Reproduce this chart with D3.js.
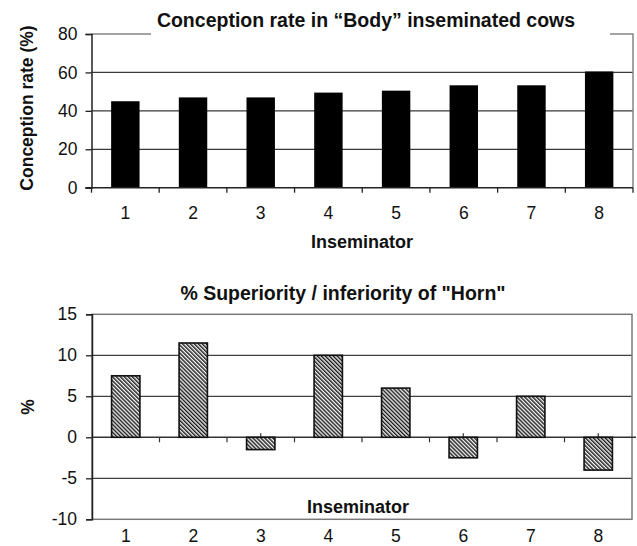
<!DOCTYPE html>
<html>
<head>
<meta charset="utf-8">
<script src="https://cdn.jsdelivr.net/npm/d3@7"></script>
<style>
  body { margin: 0; background: #fff; }
  text { font-family: "Liberation Sans", Arial, sans-serif; fill: #111; }
  .bold { font-weight: bold; }
</style>
</head>
<body>
<svg id="chart"></svg>
<script>
// data
var inseminators = ["1", "2", "3", "4", "5", "6", "7", "8"];
var bodyRate = [45, 47, 47, 49.5, 50.5, 53.3, 53.3, 60.5];
var hornDiff = [7.5, 11.5, -1.5, 10, 6, -2.5, 5, -4];
var rateTicks = [0, 20, 40, 60, 80];
var diffTicks = [-10, -5, 0, 5, 10, 15];

var width = 637, height = 546;

var svg = d3.select("#chart")
    .attr("width", width)
    .attr("height", height);

// hatch for the lower bars
svg.append("defs").append("pattern")
    .attr("id", "hatch")
    .attr("patternUnits", "userSpaceOnUse")
    .attr("width", 2.8)
    .attr("height", 2.8)
    .attr("patternTransform", "rotate(-45)")
    .call(function (p) {
        p.append("rect").attr("width", 2.8).attr("height", 2.8).attr("fill", "#f2f2f2");
        p.append("line").attr("x1", 0.7).attr("x2", 0.7).attr("y1", 0).attr("y2", 2.8)
            .attr("stroke", "#1a1a1a").attr("stroke-width", 1.4);
    });

var barFrac = 0.42;
var hyphen = function (d) { return String(d); };   // keep plain "-" like the original

// ---------- top chart ----------
var x1 = d3.scaleBand().domain(inseminators).range([91.5, 633]);
var y1 = d3.scaleLinear().domain([0, 80]).range([187.7, 34]);

var g1 = svg.append("g");

// grid
g1.selectAll(".grid")
    .data(rateTicks.filter(function (d) { return d > 0 && d < 80; }))
    .enter().append("line")
    .attr("x1", x1.range()[0]).attr("x2", x1.range()[1])
    .attr("y1", function (d) { return y1(d); })
    .attr("y2", function (d) { return y1(d); })
    .attr("stroke", "#3a3a3a").attr("stroke-width", 1.3);

// frame (top + right)
g1.append("path")
    .attr("d", "M" + x1.range()[0] + "," + y1(80) + "H" + x1.range()[1] + "V" + y1(0))
    .attr("fill", "none").attr("stroke", "#858585").attr("stroke-width", 1.5);

// bars
g1.selectAll(".bar")
    .data(bodyRate)
    .enter().append("rect")
    .attr("x", function (d, i) { return x1(inseminators[i]) + x1.bandwidth() * (1 - barFrac) / 2; })
    .attr("y", function (d) { return y1(d); })
    .attr("width", x1.bandwidth() * barFrac)
    .attr("height", function (d) { return y1(0) - y1(d); })
    .attr("fill", "#000");

// y axis
var ay1 = g1.append("g")
    .attr("transform", "translate(" + x1.range()[0] + ",0)")
    .call(d3.axisLeft(y1).tickValues(rateTicks).tickFormat(hyphen).tickSize(6).tickPadding(8));
ay1.select(".domain").attr("stroke", "#222").attr("stroke-width", 1.5);
ay1.selectAll(".tick line").attr("stroke", "#222").attr("stroke-width", 1.3);
ay1.selectAll("text").style("font-size", "17.5px").attr("fill", "#111");

// x axis line with boundary ticks
g1.append("line")
    .attr("x1", x1.range()[0] - 6).attr("x2", x1.range()[1])
    .attr("y1", y1(0)).attr("y2", y1(0))
    .attr("stroke", "#222").attr("stroke-width", 1.5);
g1.selectAll(".xt")
    .data(inseminators.concat(["end"]))
    .enter().append("line")
    .attr("x1", function (d, i) { return x1.range()[0] + i * x1.step(); })
    .attr("x2", function (d, i) { return x1.range()[0] + i * x1.step(); })
    .attr("y1", y1(0)).attr("y2", y1(0) + 5)
    .attr("stroke", "#222").attr("stroke-width", 1.3);
g1.selectAll(".xl")
    .data(inseminators)
    .enter().append("text")
    .attr("x", function (d) { return x1(d) + x1.bandwidth() / 2; })
    .attr("y", 218.5)
    .attr("text-anchor", "middle")
    .style("font-size", "17.5px")
    .text(function (d) { return d; });

// title with white box covering the frame
g1.append("rect").attr("x", 151).attr("y", 4).attr("width", 459).attr("height", 32).attr("fill", "#fff");
g1.append("text")
    .attr("class", "bold")
    .attr("x", 366).attr("y", 27)
    .attr("text-anchor", "middle")
    .style("font-size", "19.5px")
    .text("Conception rate in “Body” inseminated cows");

g1.append("text")
    .attr("class", "bold")
    .attr("transform", "translate(33,108) rotate(-90)")
    .attr("text-anchor", "middle")
    .style("font-size", "17.5px")
    .text("Conception rate (%)");

g1.append("text")
    .attr("class", "bold")
    .attr("x", 362).attr("y", 248)
    .attr("text-anchor", "middle")
    .style("font-size", "18px")
    .text("Inseminator");

// ---------- bottom chart ----------
var x2 = d3.scaleBand().domain(inseminators).range([92, 632]);
var y2 = d3.scaleLinear().domain([-10, 15]).range([519.3, 314.3]);

var g2 = svg.append("g");

g2.selectAll(".grid")
    .data(diffTicks.filter(function (d) { return d !== 0 && d > -10 && d < 15; }))
    .enter().append("line")
    .attr("x1", x2.range()[0]).attr("x2", x2.range()[1])
    .attr("y1", function (d) { return y2(d); })
    .attr("y2", function (d) { return y2(d); })
    .attr("stroke", "#404040").attr("stroke-width", 1.3);

g2.append("rect")
    .attr("x", x2.range()[0]).attr("y", y2(15))
    .attr("width", x2.range()[1] - x2.range()[0])
    .attr("height", y2(-10) - y2(15))
    .attr("fill", "none").attr("stroke", "#7a7a7a").attr("stroke-width", 1.5);

// zero axis
g2.append("line")
    .attr("x1", x2.range()[0]).attr("x2", x2.range()[1] + 4)
    .attr("y1", y2(0)).attr("y2", y2(0))
    .attr("stroke", "#333").attr("stroke-width", 1.4);
g2.selectAll(".xt")
    .data(inseminators.slice(1))
    .enter().append("line")
    .attr("x1", function (d) { return x2(d); })
    .attr("x2", function (d) { return x2(d); })
    .attr("y1", y2(0)).attr("y2", y2(0) + 5)
    .attr("stroke", "#333").attr("stroke-width", 1.2);
g2.selectAll(".xc")
    .data(inseminators)
    .enter().append("line")
    .attr("x1", function (d) { return x2(d) + x2.bandwidth() / 2; })
    .attr("x2", function (d) { return x2(d) + x2.bandwidth() / 2; })
    .attr("y1", y2(0)).attr("y2", y2(0) - 4)
    .attr("stroke", "#333").attr("stroke-width", 1.2);

g2.selectAll(".bar")
    .data(hornDiff)
    .enter().append("rect")
    .attr("x", function (d, i) { return x2(inseminators[i]) + x2.bandwidth() * (1 - barFrac) / 2; })
    .attr("y", function (d) { return y2(Math.max(0, d)); })
    .attr("width", x2.bandwidth() * barFrac)
    .attr("height", function (d) { return Math.abs(y2(d) - y2(0)); })
    .attr("fill", "url(#hatch)")
    .attr("stroke", "#111").attr("stroke-width", 1.6);

var ay2 = g2.append("g")
    .attr("transform", "translate(" + x2.range()[0] + ",0)")
    .call(d3.axisLeft(y2).tickValues(diffTicks).tickFormat(hyphen).tickSize(6).tickPadding(9));
ay2.select(".domain").attr("stroke", "#222").attr("stroke-width", 1.5);
ay2.selectAll(".tick line").attr("stroke", "#222").attr("stroke-width", 1.3);
ay2.selectAll("text").style("font-size", "17.5px").attr("fill", "#111");

g2.selectAll(".xl")
    .data(inseminators)
    .enter().append("text")
    .attr("x", function (d) { return x2(d) + x2.bandwidth() / 2; })
    .attr("y", 541.5)
    .attr("text-anchor", "middle")
    .style("font-size", "17.5px")
    .text(function (d) { return d; });

g2.append("text")
    .attr("class", "bold")
    .attr("x", 343).attr("y", 299.5)
    .attr("text-anchor", "middle")
    .style("font-size", "19.5px")
    .text("% Superiority / inferiority of \"Horn\"");

g2.append("text")
    .attr("class", "bold")
    .attr("transform", "translate(34,407) rotate(-90)")
    .attr("text-anchor", "middle")
    .style("font-size", "17.5px")
    .text("%");

g2.append("text")
    .attr("class", "bold")
    .attr("x", 358).attr("y", 513)
    .attr("text-anchor", "middle")
    .style("font-size", "18px")
    .text("Inseminator");
</script>
</body>
</html>
